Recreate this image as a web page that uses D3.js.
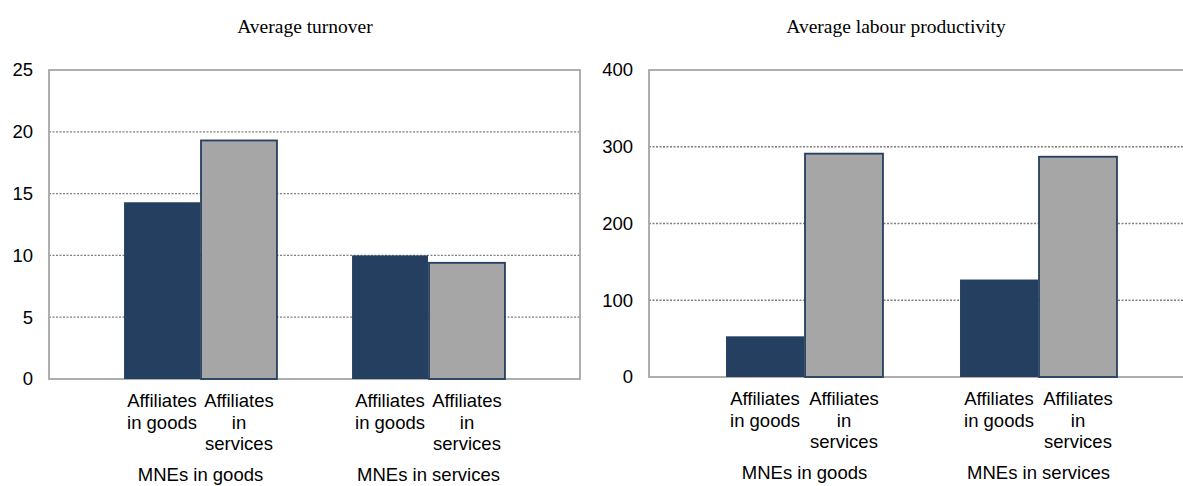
<!DOCTYPE html>
<html>
<head>
<meta charset="utf-8" />
<title>Average turnover and labour productivity</title>
<script src="https://cdn.jsdelivr.net/npm/d3@7"></script>
<style>
  html, body { margin: 0; padding: 0; background: #fff; }
  svg { display: block; }
  .title { font-family: 'Liberation Serif', 'Times New Roman', serif; font-size: 19.5px; fill: #000; }
  .tick-label, .cat-label, .group-label { font-family: 'Liberation Sans', Arial, sans-serif; font-size: 18.5px; fill: #000; }
</style>
</head>
<body>
<svg id="chart"></svg>
<script>
// categories
const groups = ['MNEs in goods', 'MNEs in services'];
const series = ['Affiliates in goods', 'Affiliates in services'];
const seriesLines = [['Affiliates', 'in goods'], ['Affiliates', 'in', 'services']];

// values
const turnoverGoods = [14.3, 10.0];
const turnoverServices = [19.3, 9.4];
const productivityGoods = [53, 127];
const productivityServices = [291, 287];

// tick labels
const turnoverTicks = [0, 5, 10, 15, 20, 25];
const productivityTicks = [0, 100, 200, 300, 400];

const width = 1183;
const height = 486;
const navy = '#243f60';
const grey = '#a6a6a6';
const frame = '#a6a6a6';

const svg = d3.select('#chart').attr('width', width).attr('height', height);

function drawPanel(opt) {
  const g = svg.append('g');
  const y = d3.scaleLinear()
    .domain([0, d3.max(opt.ticks)])
    .range([opt.bottom, opt.top]);
  const x = d3.scaleBand()
    .domain(groups)
    .range([opt.left, opt.right])
    .paddingInner(0.325)
    .paddingOuter(0.327);
  const xs = d3.scaleBand().domain(series).range([0, x.bandwidth()]);

  // dotted gridlines
  g.selectAll('.grid')
    .data(opt.ticks.filter((t) => t > 0 && t < d3.max(opt.ticks)))
    .join('line')
    .attr('x1', opt.left).attr('x2', opt.right)
    .attr('y1', (d) => y(d)).attr('y2', (d) => y(d))
    .attr('stroke', '#808080')
    .attr('stroke-width', 1.3)
    .attr('stroke-dasharray', '2,1.5');

  // plot frame
  g.append('rect')
    .attr('x', opt.left).attr('y', opt.top)
    .attr('width', opt.right - opt.left)
    .attr('height', opt.bottom - opt.top)
    .attr('fill', 'none')
    .attr('stroke', frame)
    .attr('stroke-width', 1.8);

  // y axis labels
  const yAxis = d3.axisLeft(y).tickValues(opt.ticks).tickSize(0).tickPadding(16);
  const ax = g.append('g').attr('transform', `translate(${opt.left},0)`).call(yAxis);
  ax.select('.domain').remove();
  ax.selectAll('text').attr('class', 'tick-label').attr('font-family', null).attr('font-size', null);

  // bars
  const rows = groups.map((grp, i) => ({ grp, vals: [opt.goods[i], opt.services[i]] }));
  const grpSel = g.selectAll('.grp')
    .data(rows)
    .join('g')
    .attr('transform', (d) => `translate(${x(d.grp)},0)`);
  grpSel.selectAll('rect')
    .data((d) => d.vals.map((v, j) => ({ s: series[j], v, j })))
    .join('rect')
    .attr('x', (d) => xs(d.s) + 0.5)
    .attr('width', xs.bandwidth() - 1)
    .attr('y', (d) => y(d.v))
    .attr('height', (d) => y(0) - y(d.v))
    .attr('fill', (d) => (d.j === 0 ? navy : grey))
    .attr('stroke', navy)
    .attr('stroke-width', (d) => (d.j === 0 ? 0 : 1.8));

  // category labels under each bar
  grpSel.each(function (d) {
    const sel = d3.select(this);
    series.forEach((s, j) => {
      const t = sel.append('text')
        .attr('class', 'cat-label')
        .attr('text-anchor', 'middle')
        .attr('x', xs(s) + xs.bandwidth() / 2)
        .attr('y', opt.bottom + 28);
      seriesLines[j].forEach((ln, k) => {
        t.append('tspan')
          .attr('x', xs(s) + xs.bandwidth() / 2)
          .attr('dy', k === 0 ? 0 : 21.5)
          .text(ln);
      });
    });
    sel.append('text')
      .attr('class', 'group-label')
      .attr('text-anchor', 'middle')
      .attr('x', x.bandwidth() / 2)
      .attr('y', opt.labelY)
      .text(d.grp);
  });

  // title
  svg.append('text')
    .attr('class', 'title')
    .attr('text-anchor', 'middle')
    .attr('x', opt.titleX)
    .attr('y', 33)
    .text(opt.title);
}

drawPanel({
  title: 'Average turnover', titleX: 305,
  left: 49, right: 580, top: 70, bottom: 379, labelY: 481,
  ticks: turnoverTicks, goods: turnoverGoods, services: turnoverServices
});

drawPanel({
  title: 'Average labour productivity', titleX: 896,
  left: 649, right: 1194, top: 70, bottom: 377, labelY: 479,
  ticks: productivityTicks, goods: productivityGoods, services: productivityServices
});
</script>
</body>
</html>
